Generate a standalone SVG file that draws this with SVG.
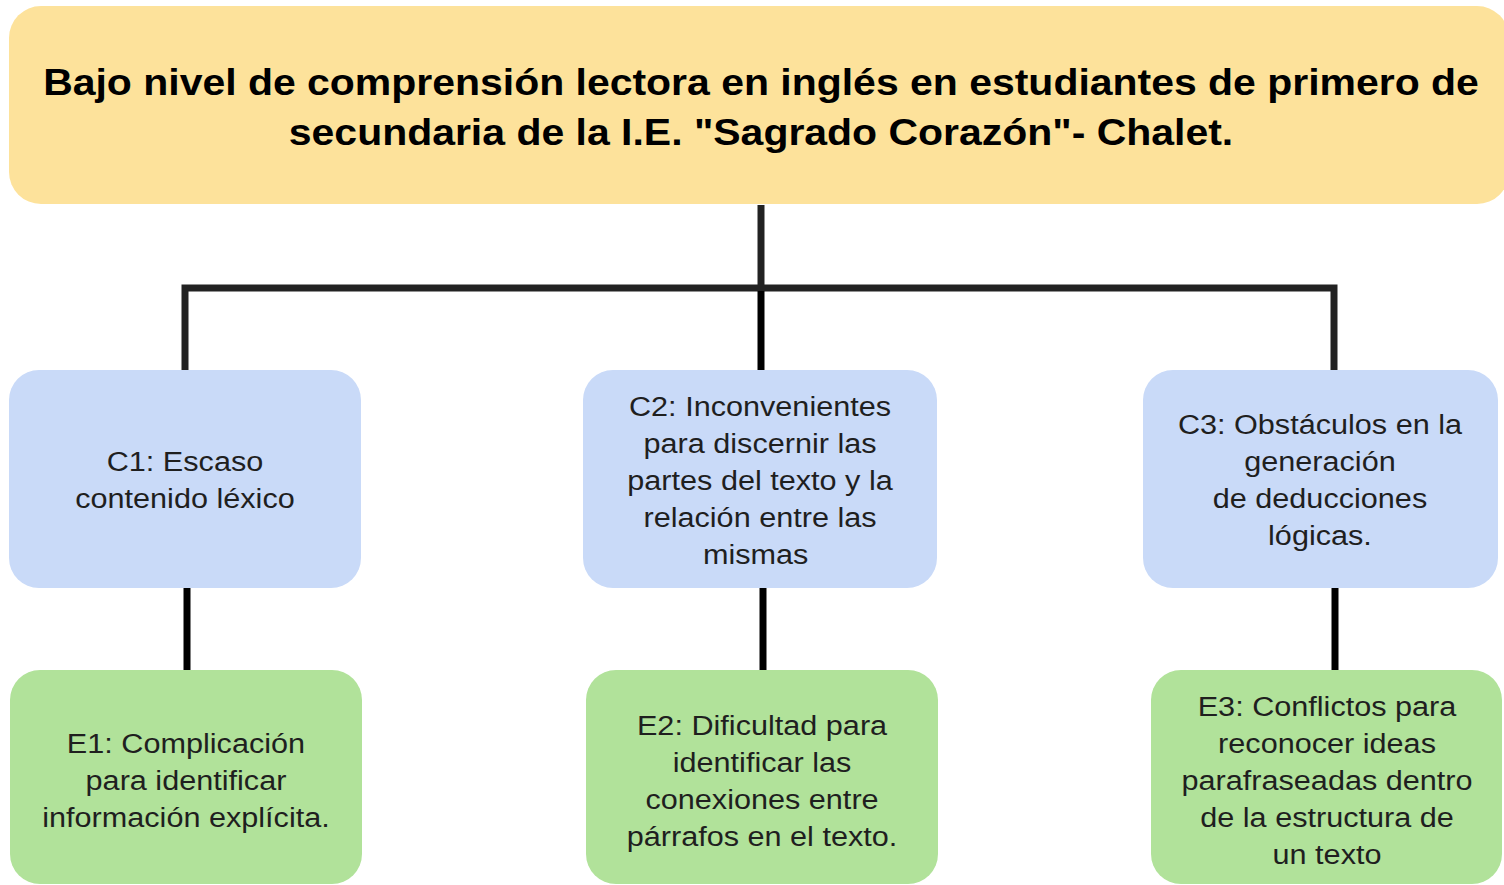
<svg xmlns="http://www.w3.org/2000/svg" width="1504" height="885" viewBox="0 0 1504 885">
<style>
.t{font-family:"Liberation Sans",Arial,sans-serif;font-size:37px;font-weight:bold;fill:#000;text-anchor:middle}
.n{font-family:"Liberation Sans",Arial,sans-serif;font-size:28px;fill:#1f1f1f;text-anchor:middle}
.top{fill:#fde29b}
.c{fill:#c9daf8}
.e{fill:#b1e29a}
.ln{stroke:#222;stroke-width:7;fill:none}
.lb{stroke:#000;stroke-width:7;fill:none}
</style>
<rect width="1504" height="885" fill="#fff"/>
<g id="connectors">
<path class="ln" d="M761 205 V288"/>
<path class="ln" d="M185 370 V288 H1334 V370"/>
<path class="lb" d="M761 291 V370"/>
<path class="lb" d="M187 588 V670"/>
<path class="lb" d="M763 588 V670"/>
<path class="lb" d="M1335 588 V670"/>
</g>
<g id="root">
<rect class="top" x="9" y="6" width="1500" height="198" rx="32"/>
<g transform="matrix(1.107,0,0,1,-81.4,0)">
<text class="t" x="761" y="95">Bajo nivel de comprensión lectora en inglés en estudiantes de primero de</text>
<text class="t" x="761" y="145">secundaria de la I.E. "Sagrado Corazón"- Chalet.</text>
</g>
</g>
<g id="c1">
<rect class="c" x="9" y="370" width="352" height="218" rx="30"/>
<g transform="matrix(1.094,0,0,1,-17.4,0)">
<text class="n" x="185" y="471">C1: Escaso</text>
<text class="n" x="185" y="508">contenido léxico</text>
</g>
</g>
<g id="c2">
<rect class="c" x="583" y="370" width="354" height="218" rx="30"/>
<g transform="matrix(1.094,0,0,1,-71.4,0)">
<text class="n" x="760" y="416">C2: Inconvenientes</text>
<text class="n" x="760" y="453">para discernir las</text>
<text class="n" x="760" y="490">partes del texto y la</text>
<text class="n" x="760" y="527">relación entre las</text>
<text class="n" x="756" y="564">mismas</text>
</g>
</g>
<g id="c3">
<rect class="c" x="1143" y="370" width="355" height="218" rx="30"/>
<g transform="matrix(1.094,0,0,1,-124.1,0)">
<text class="n" x="1320" y="434">C3: Obstáculos en la</text>
<text class="n" x="1320" y="471">generación</text>
<text class="n" x="1320" y="508">de deducciones</text>
<text class="n" x="1320" y="545">lógicas.</text>
</g>
</g>
<g id="e1">
<rect class="e" x="10" y="670" width="352" height="214" rx="30"/>
<g transform="matrix(1.094,0,0,1,-17.5,0)">
<text class="n" x="186" y="753">E1: Complicación</text>
<text class="n" x="186" y="790">para identificar</text>
<text class="n" x="186" y="827">información explícita.</text>
</g>
</g>
<g id="e2">
<rect class="e" x="586" y="670" width="352" height="214" rx="30"/>
<g transform="matrix(1.094,0,0,1,-71.6,0)">
<text class="n" x="762" y="735">E2: Dificultad para</text>
<text class="n" x="762" y="772">identificar las</text>
<text class="n" x="762" y="809">conexiones entre</text>
<text class="n" x="762" y="846">párrafos en el texto.</text>
</g>
</g>
<g id="e3">
<rect class="e" x="1151" y="670" width="351" height="214" rx="30"/>
<g transform="matrix(1.094,0,0,1,-124.7,0)">
<text class="n" x="1327" y="716">E3: Conflictos para</text>
<text class="n" x="1327" y="753">reconocer ideas</text>
<text class="n" x="1327" y="790">parafraseadas dentro</text>
<text class="n" x="1327" y="827">de la estructura de</text>
<text class="n" x="1327" y="864">un texto</text>
</g>
</g>
</svg>
